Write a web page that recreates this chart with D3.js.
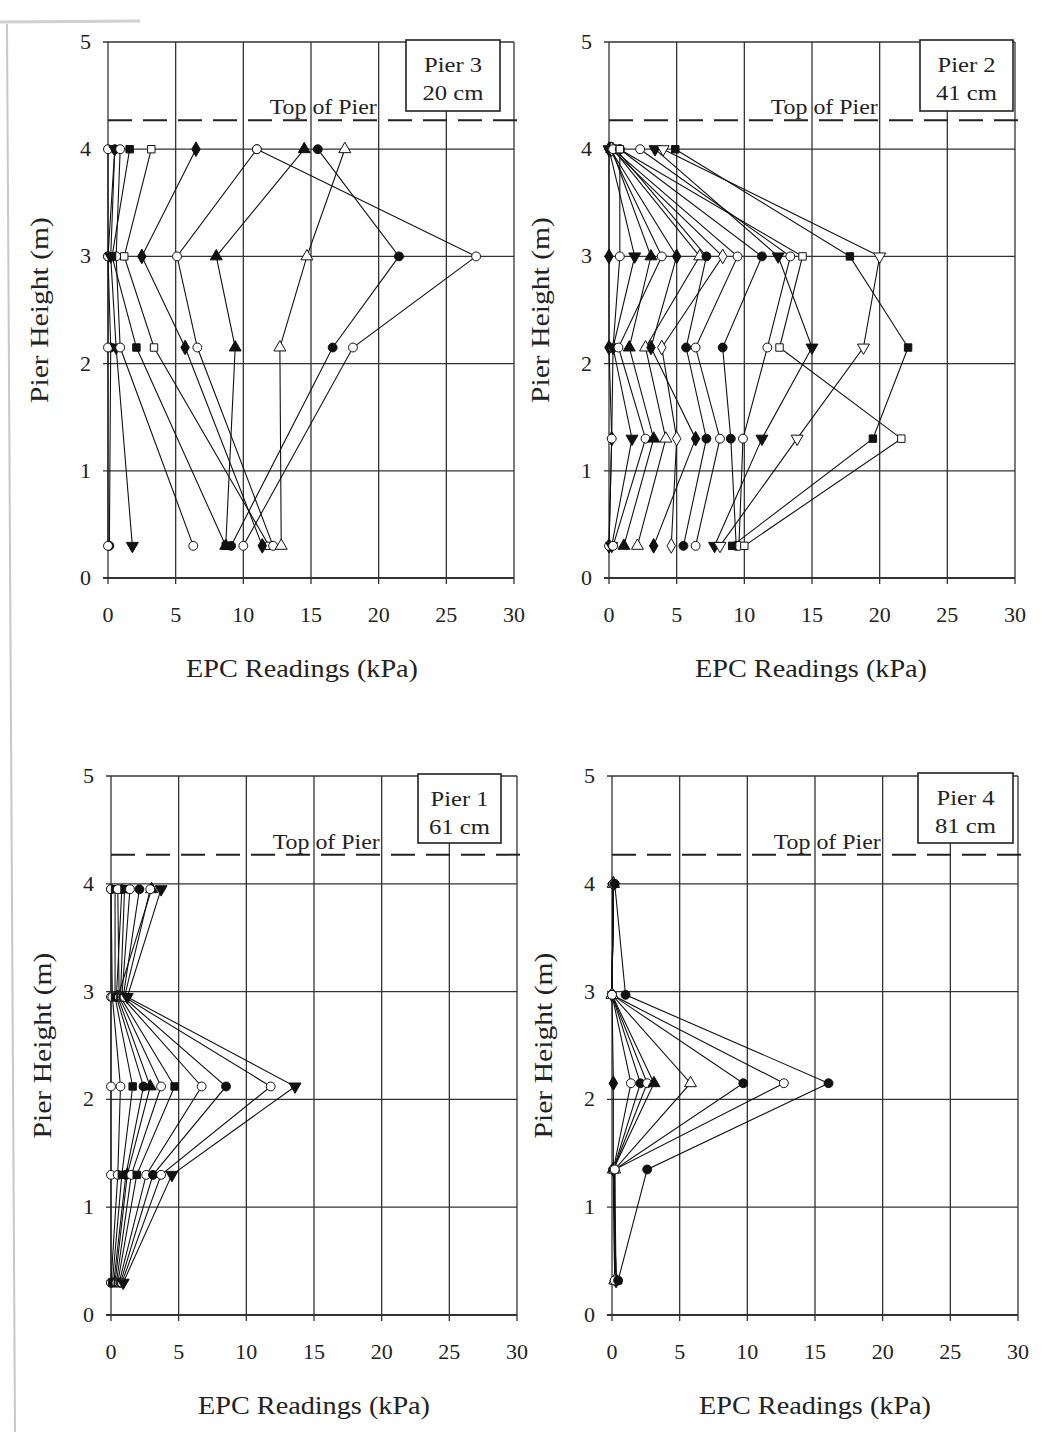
<!DOCTYPE html>
<html>
<head>
<meta charset="utf-8">
<script src="https://cdn.jsdelivr.net/npm/d3@7"></script>
<style>
  body { margin: 0; background: #fff; }
  svg text { font-family: "Liberation Serif", "Times New Roman", serif; fill: #222; }
</style>
</head>
<body>
<svg id="chart" width="1047" height="1437"></svg>
<script>
// ---- data ----
const xTicks = [0, 5, 10, 15, 20, 25, 30];
const yTicks = [0, 1, 2, 3, 4, 5];
const topOfPier = 4.27;

// Pier 3 (20 cm)
const pier3Heights = [4.0, 3.0, 2.15, 0.3];
const pier3Markers = ["circle-o", "circle-f", "triangle-f", "triangle-o", "circle-o", "diamond-f",
  "square-o", "square-f", "circle-o", "tridown-f", "circle-o", "circle-f"];
const pier3Values = [
  [11.0, 27.2, 18.1, 10.0],
  [15.5, 21.5, 16.6, 9.1],
  [14.5, 8.0, 9.4, 8.7],
  [17.5, 14.7, 12.7, 12.8],
  [11.0, 5.1, 6.6, 12.2],
  [6.5, 2.5, 5.7, 11.4],
  [3.2, 1.2, 3.4, 11.9],
  [1.6, 0.3, 2.1, 8.7],
  [0.9, 0.6, 0.9, 6.3],
  [0.5, 0.2, 0.6, 1.8],
  [0.0, 0.0, 0.0, 0.0],
  [0.5, 0.0, 0.2, 0.1]
];

// Pier 2 (41 cm)
const pier2Heights = [4.0, 3.0, 2.15, 1.3, 0.3];
const pier2Markers = ["square-o", "square-f", "tridown-o", "tridown-f", "circle-o", "circle-f",
  "circle-o", "circle-f", "diamond-o", "diamond-f", "triangle-o", "triangle-f", "circle-o",
  "tridown-f", "circle-o", "diamond-f"];
const pier2Values = [
  [0.8, 14.3, 12.6, 21.6, 10.0],
  [4.9, 17.8, 22.1, 19.5, 9.1],
  [4.0, 20.0, 18.8, 13.9, 8.2],
  [3.4, 12.5, 15.0, 11.3, 7.8],
  [2.3, 13.4, 11.7, 9.9, 9.6],
  [0.8, 11.3, 8.4, 9.0, 9.4],
  [0.3, 9.5, 6.4, 8.2, 6.4],
  [0.5, 7.2, 5.7, 7.2, 5.5],
  [0.2, 8.4, 3.9, 5.0, 4.6],
  [0.1, 5.0, 3.1, 6.4, 3.3],
  [0.3, 6.7, 2.7, 4.2, 2.1],
  [0.2, 3.1, 1.5, 3.3, 1.1],
  [0.1, 3.9, 0.7, 2.7, 0.3],
  [0.0, 1.9, 0.3, 1.7, 0.2],
  [0.8, 0.8, 0.3, 0.2, 0.0],
  [0.0, 0.0, 0.0, 0.2, 0.0]
];

// Pier 1 (61 cm)
const pier1Heights = [3.95, 2.95, 2.12, 1.3, 0.3];
const pier1Markers = ["tridown-f", "circle-o", "circle-f", "circle-o", "square-f", "circle-o",
  "triangle-f", "circle-f", "square-f", "circle-o", "circle-o"];
const pier1Values = [
  [3.7, 1.2, 13.6, 4.5, 0.9],
  [2.9, 1.0, 11.8, 3.7, 0.8],
  [2.1, 0.9, 8.5, 3.1, 0.7],
  [1.4, 0.8, 6.7, 2.6, 0.6],
  [1.0, 0.7, 4.7, 1.9, 0.5],
  [0.5, 0.6, 3.7, 1.5, 0.4],
  [3.0, 0.5, 2.9, 1.2, 0.3],
  [0.8, 0.4, 2.4, 1.1, 0.2],
  [0.3, 0.3, 1.6, 0.8, 0.1],
  [0.0, 0.1, 0.7, 0.5, 0.0],
  [0.0, 0.0, 0.0, 0.0, 0.0]
];

// Pier 4 (81 cm)
const pier4Heights = [4.0, 2.97, 2.15, 1.35, 0.32];
const pier4Markers = ["circle-f", "circle-o", "circle-f", "triangle-o", "triangle-f", "circle-o",
  "circle-f", "circle-o", "diamond-f"];
const pier4Values = [
  [0.2, 1.0, 16.0, 2.6, 0.45],
  [0.1, 0.0, 12.7, 0.2, 0.2],
  [0.1, 0.0, 9.7, 0.2, 0.3],
  [0.1, 0.0, 5.8, 0.2, 0.2],
  [0.1, 0.0, 3.1, 0.1, 0.3],
  [0.1, 0.0, 2.6, 0.1, 0.2],
  [0.1, 0.0, 2.1, 0.1, 0.3],
  [0.1, 0.0, 1.4, 0.1, 0.2],
  [0.1, 0.0, 0.1, 0.1, 0.3]
];

const panels = [
  { name: "Pier 3", size: "20 cm", heights: pier3Heights, values: pier3Values, markers: pier3Markers,
    x0: 108, x1: 514, yTop: 42, yBot: 578, box: [406, 40, 94, 71], titleShift: -9 },
  { name: "Pier 2", size: "41 cm", heights: pier2Heights, values: pier2Values, markers: pier2Markers,
    x0: 609, x1: 1015, yTop: 42, yBot: 578, box: [920, 40, 93, 71], titleShift: -1 },
  { name: "Pier 1", size: "61 cm", heights: pier1Heights, values: pier1Values, markers: pier1Markers,
    x0: 111, x1: 517, yTop: 776, yBot: 1315, box: [418, 774, 83, 69], titleShift: 0 },
  { name: "Pier 4", size: "81 cm", heights: pier4Heights, values: pier4Values, markers: pier4Markers,
    x0: 612, x1: 1018, yTop: 776, yBot: 1315, box: [918, 773, 95, 70], titleShift: 0 }
];

const svg = d3.select("#chart");

// faint scan border of the page
svg.append("line").attr("x1", 7).attr("y1", 24).attr("x2", 15).attr("y2", 1432)
  .attr("stroke", "#c8c8c8").attr("stroke-width", 2);
svg.append("line").attr("x1", 0).attr("y1", 22).attr("x2", 140).attr("y2", 21)
  .attr("stroke", "#d0d0d0").attr("stroke-width", 3);

const symbolTypes = {
  circle: d3.symbolCircle,
  square: d3.symbolSquare,
  triangle: d3.symbolTriangle,
  tridown: d3.symbolTriangle,
  diamond: d3.symbolDiamond
};

function drawPanel(p) {
  const x = d3.scaleLinear().domain([0, 30]).range([p.x0, p.x1]);
  const y = d3.scaleLinear().domain([0, 5]).range([p.yBot, p.yTop]);
  const g = svg.append("g");

  // grid
  g.append("g").selectAll("line.v")
    .data(xTicks).enter().append("line")
    .attr("x1", d => x(d)).attr("x2", d => x(d))
    .attr("y1", p.yTop).attr("y2", p.yBot + 6)
    .attr("stroke", "#333").attr("stroke-width", 1.3);
  g.append("g").selectAll("line.h")
    .data(yTicks).enter().append("line")
    .attr("x1", p.x0 - 5).attr("x2", p.x1)
    .attr("y1", d => y(d)).attr("y2", d => y(d))
    .attr("stroke", "#333").attr("stroke-width", d => d === 0 ? 2 : 1.3);

  // tick labels
  g.append("g").selectAll("text")
    .data(yTicks).enter().append("text")
    .attr("x", p.x0 - 17).attr("y", d => y(d) + 7)
    .attr("text-anchor", "end")
    .style("font-size", "22px")
    .text(d => d);
  g.append("g").selectAll("text")
    .data(xTicks).enter().append("text")
    .attr("x", d => x(d)).attr("y", p.yBot + 44)
    .attr("text-anchor", "middle")
    .style("font-size", "22px")
    .text(d => d);

  // axis titles
  g.append("text")
    .attr("x", (p.x0 + p.x1) / 2 + p.titleShift).attr("y", p.yBot + 99)
    .attr("text-anchor", "middle")
    .attr("textLength", 232).attr("lengthAdjust", "spacingAndGlyphs")
    .style("font-size", "25px")
    .text("EPC Readings (kPa)");
  g.append("text")
    .attr("transform", `translate(${p.x0 - 60},${(p.yTop + p.yBot) / 2}) rotate(-90)`)
    .attr("text-anchor", "middle")
    .attr("textLength", 186).attr("lengthAdjust", "spacingAndGlyphs")
    .style("font-size", "25px")
    .text("Pier Height (m)");

  // top of pier line
  g.append("line")
    .attr("x1", p.x0).attr("x2", p.x1 + 4)
    .attr("y1", y(topOfPier)).attr("y2", y(topOfPier))
    .attr("stroke", "#222").attr("stroke-width", 2)
    .attr("stroke-dasharray", "24,11");
  g.append("text")
    .attr("x", x(15.9)).attr("y", y(topOfPier) - 6)
    .attr("text-anchor", "middle")
    .attr("textLength", 107).attr("lengthAdjust", "spacingAndGlyphs")
    .style("font-size", "22px")
    .text("Top of Pier");

  // pier label box
  const [bx, by, bw, bh] = p.box;
  g.append("rect")
    .attr("x", bx).attr("y", by).attr("width", bw).attr("height", bh)
    .attr("fill", "#fff").attr("stroke", "#222").attr("stroke-width", 1.6);
  g.append("text")
    .attr("x", bx + bw / 2).attr("y", by + 32)
    .attr("text-anchor", "middle").style("font-size", "22px")
    .attr("textLength", 58).attr("lengthAdjust", "spacingAndGlyphs")
    .text(p.name);
  g.append("text")
    .attr("x", bx + bw / 2).attr("y", by + 60)
    .attr("text-anchor", "middle").style("font-size", "22px")
    .attr("textLength", 61).attr("lengthAdjust", "spacingAndGlyphs")
    .text(p.size);

  // series lines
  const line = d3.line()
    .x(d => x(d[0]))
    .y(d => y(d[1]));
  const series = p.values.map((vals, i) => ({
    marker: p.markers[i],
    pts: vals.map((v, j) => [v, p.heights[j]])
  }));

  g.append("g").selectAll("path")
    .data(series).enter().append("path")
    .attr("d", d => line(d.pts))
    .attr("fill", "none")
    .attr("stroke", "#111")
    .attr("stroke-width", 1.1);

  // markers (first series drawn on top)
  const mg = g.append("g");
  series.slice().reverse().forEach(s => {
    const [shape, fillType] = s.marker.split("-");
    const sym = d3.symbol().type(symbolTypes[shape]).size(shape === "square" ? 55 : 62);
    mg.selectAll(null)
      .data(s.pts).enter().append("path")
      .attr("d", sym)
      .attr("transform", d => `translate(${x(d[0])},${y(d[1])})` + (shape === "tridown" ? " rotate(180)" : ""))
      .attr("fill", fillType === "f" ? "#111" : "#fff")
      .attr("stroke", "#111")
      .attr("stroke-width", 1);
  });
}

panels.forEach(drawPanel);
</script>
</body>
</html>
